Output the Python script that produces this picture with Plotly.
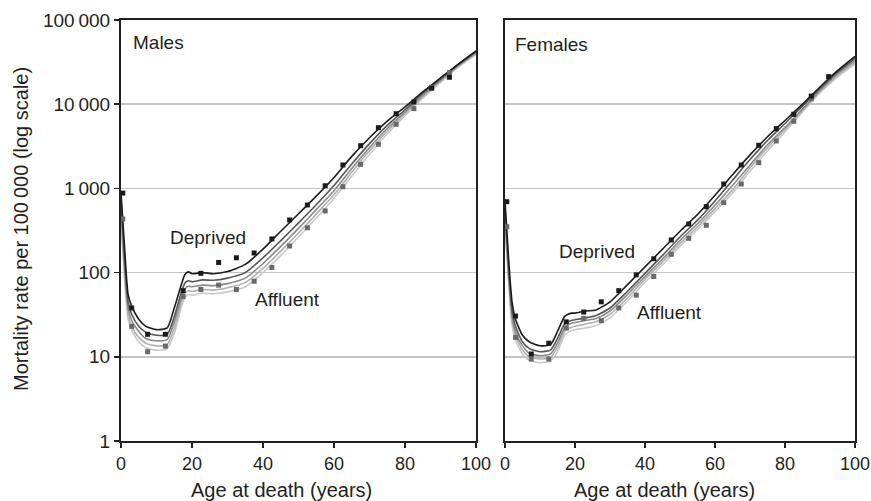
import plotly.graph_objects as go

# ---------------- data ----------------
AGES = [0, 1, 2, 3, 5, 7, 10, 13, 15, 17, 18, 19, 20, 23, 26, 30, 35, 40, 45, 50,
        55, 60, 65, 70, 75, 80, 85, 90, 95, 100]

# Males, fitted curves (most deprived -> most affluent)
M_Q5 = [900, 200, 55, 40, 28, 23, 21, 22, 38, 72, 95, 102, 97, 100, 97, 103, 125, 190, 310, 500,
        810, 1350, 2400, 4000, 6300, 9300, 14000, 20500, 30000, 43000]
M_Q4 = [700, 150, 45, 32, 23, 19.5, 18, 18.5, 30, 58, 75, 80, 78, 82, 81, 86, 100, 150, 240, 390,
        640, 1080, 1950, 3400, 5600, 8600, 13500, 20000, 29500, 42000]
M_Q3 = [560, 120, 38, 27, 20, 16.5, 15.5, 16, 26, 50, 64, 69, 68, 71, 70, 74, 86, 128, 205, 335,
        560, 940, 1720, 3050, 5150, 8100, 12800, 19300, 28800, 41000]
M_Q2 = [480, 100, 32, 23, 17, 14.5, 13.5, 14, 22, 44, 57, 61, 60, 63, 62, 66, 76, 112, 180, 295,
        495, 840, 1550, 2800, 4800, 7700, 12300, 18800, 28200, 40000]
M_Q1 = [420, 85, 28, 21, 15, 12.8, 12, 12.5, 19, 39, 51, 55, 54, 57, 56, 59, 68, 100, 160, 265,
        445, 760, 1400, 2550, 4450, 7300, 11800, 18200, 27500, 39000]

# Females, fitted curves
F_Q5 = [700, 150, 45, 28, 18, 15, 13.5, 14, 20, 30, 32, 33, 33, 35, 36, 45, 72, 117, 190, 310,
        490, 830, 1450, 2500, 4100, 6400, 10000, 16000, 25000, 37000]
F_Q4 = [560, 120, 36, 23, 15, 12.5, 11.5, 12, 16.5, 24.5, 26, 27, 27.5, 29, 31, 38, 60, 98, 160, 265,
        420, 710, 1250, 2200, 3700, 5900, 9500, 15400, 24000, 35000]
F_Q3 = [470, 100, 31, 20, 13.5, 11, 10.3, 10.8, 14.5, 22, 24, 25, 25.5, 27, 28.5, 35, 55, 90, 145, 240,
        380, 630, 1080, 1900, 3300, 5300, 8800, 14600, 23000, 33000]
F_Q2 = [410, 88, 27, 18, 12, 10, 9.4, 9.8, 13, 20, 21.5, 22.5, 23, 24.5, 26, 32, 50, 84, 135, 220,
        350, 575, 960, 1750, 3050, 5000, 8400, 14100, 22000, 31500]
F_Q1 = [360, 78, 24, 16, 10.8, 9, 8.5, 8.9, 11.5, 18, 19.5, 20.5, 21, 22, 23.5, 29, 46, 77, 124, 205,
        325, 530, 880, 1600, 2800, 4700, 8100, 13700, 21000, 30000]

# Observed rates (markers), 5-year age groups
MK_AGES = [0.5, 3, 7.5, 12.5, 17.5, 22.5, 27.5, 32.5, 37.5, 42.5, 47.5, 52.5, 57.5, 62.5,
           67.5, 72.5, 77.5, 82.5, 87.5, 92.5]
M_DEP = [880, 38, 18.5, 18.5, 61, 98, 132, 150, 171, 251, 422, 635, 1076, 1897, 3215, 5260,
         7710, 10620, 15500, 20900]
M_AFF = [433, 23, 11.5, 13.4, 52, 63, 71, 63, 79, 115, 207, 341, 540, 1047, 1932, 3344,
         5770, 8850, 15900, 23700]
F_DEP = [695, 30.5, 10.8, 14.5, 26, 34, 45, 61, 94, 146, 244, 378, 607, 1127, 1897, 3250,
         5120, 7590, 12500, 21200]
F_AFF = [351, 17, 9.4, 9.4, 22, 28.6, 26.9, 38, 54, 90, 165, 255, 365, 676, 1127, 2020,
         3660, 6270, 11600, 21200]

Y_TICKS = [1, 10, 100, 1000, 10000, 100000]
Y_TICK_TEXT = ["1", "10", "100", "1\u2009000", "10\u2009000", "100\u2009000"]
X_TICKS = [0, 20, 40, 60, 80, 100]

# ---------------- figure ----------------
LINE_COLORS = ["#1c1c1c", "#555555", "#8a8a8a", "#b0b0b0", "#c9c9c9"]
INK = "#231f20"
FONT = "Liberation Sans, Arial, sans-serif"

fig = go.Figure()

panels = [
    ("x", "y", [M_Q1, M_Q2, M_Q3, M_Q4, M_Q5], M_DEP, M_AFF),
    ("x2", "y2", [F_Q1, F_Q2, F_Q3, F_Q4, F_Q5], F_DEP, F_AFF),
]
for xa, ya, curves, dep, aff in panels:
    for vals, col in zip(curves, LINE_COLORS[::-1]):
        fig.add_trace(go.Scatter(x=AGES, y=vals, mode="lines", xaxis=xa, yaxis=ya,
                                 line=dict(color=col, width=1.6, shape="spline", smoothing=0.6),
                                 showlegend=False, hoverinfo="skip"))
    fig.add_trace(go.Scatter(x=MK_AGES, y=aff, mode="markers", xaxis=xa, yaxis=ya,
                             marker=dict(symbol="square", size=5, color="#6a6a6a"),
                             showlegend=False))
    fig.add_trace(go.Scatter(x=MK_AGES, y=dep, mode="markers", xaxis=xa, yaxis=ya,
                             marker=dict(symbol="square", size=5, color="#1a1a1a"),
                             showlegend=False))

axis_common = dict(showline=True, linecolor=INK, linewidth=2, mirror=True,
                   ticks="outside", ticklen=5, tickwidth=1.5, tickcolor=INK,
                   zeroline=False, automargin=False)
x_tickfont = dict(family=FONT, size=18, color=INK)
y_tickfont = dict(family=FONT, size=19, color=INK)

fig.update_layout(
    template="none",
    width=871, height=501,
    margin=dict(l=121, r=16, t=20, b=60, autoexpand=False),
    paper_bgcolor="white", plot_bgcolor="white",
    font=dict(family=FONT, size=19, color=INK),
    xaxis=dict(domain=[0, 0.4837], range=[0, 100], tickvals=X_TICKS, showgrid=False,
               tickfont=x_tickfont, **axis_common),
    xaxis2=dict(domain=[0.5232, 1.0], range=[0, 100], tickvals=X_TICKS, showgrid=False,
                anchor="y2", tickfont=x_tickfont, **axis_common),
    yaxis=dict(type="log", range=[0, 5], tickvals=Y_TICKS, ticktext=Y_TICK_TEXT,
               showgrid=True, gridcolor="#c4c4c4", gridwidth=1.5, tickfont=y_tickfont,
               **axis_common),
    yaxis2=dict(type="log", range=[0, 5], tickvals=Y_TICKS, showticklabels=False,
                showgrid=True, gridcolor="#c4c4c4", gridwidth=1.5, anchor="x2",
                showline=True, linecolor=INK, linewidth=2, mirror=True, ticks="",
                zeroline=False, automargin=False),
)

# axis titles (paper coordinates)
title_font = dict(family=FONT, size=20, color=INK)
fig.add_annotation(x=-0.1362, y=0.5036, xref="paper", yref="paper", textangle=-90,
                   text="Mortality rate per 100\u2009000 (log scale)", showarrow=False,
                   xanchor="center", yanchor="middle", font=title_font)
fig.add_annotation(x=0.2187, y=-0.1164, xref="paper", yref="paper",
                   text="Age at death (years)", showarrow=False,
                   xanchor="center", yanchor="middle", font=title_font)
fig.add_annotation(x=0.741, y=-0.1164, xref="paper", yref="paper",
                   text="Age at death (years)", showarrow=False,
                   xanchor="center", yanchor="middle", font=title_font)

ann_font = dict(family=FONT, size=19, color=INK)
annots = [
    ("x", "y", 2.8, 4.727, "Males", "left"),
    ("x2", "y2", 2.3, 4.715, "Females", "left"),
    ("x", "y", 24.5, 2.411, "Deprived", "center"),
    ("x", "y", 47.0, 1.686, "Affluent", "center"),
    ("x2", "y2", 26.3, 2.245, "Deprived", "center"),
    ("x2", "y2", 47.1, 1.532, "Affluent", "center"),
]
for xr, yr, x, y, t, xa in annots:
    fig.add_annotation(x=x, y=y, xref=xr, yref=yr, text=t, showarrow=False,
                       xanchor=xa, yanchor="middle", font=ann_font)

# remove the default page margin so the 871x501 figure fills the window exactly
fig.write_html("out.html",
               config={"displayModeBar": False, "staticPlot": True},
               post_script="document.body.style.margin='0';document.body.style.overflow='hidden';")
